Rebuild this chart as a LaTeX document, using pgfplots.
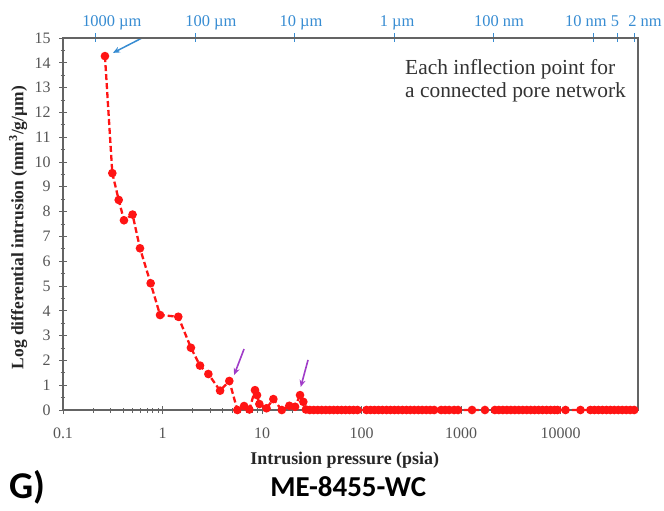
\documentclass[border=0pt]{standalone}
\usepackage{fontspec}
\setmainfont{Liberation Serif}
\newfontfamily\calibri{Carlito}
\usepackage{pgfplots}
\pgfplotsset{compat=1.18}
\usetikzlibrary{arrows.meta}
\definecolor{axgray}{RGB}{100,100,100}
\definecolor{ticktxt}{RGB}{85,85,85}
\definecolor{topblue}{RGB}{55,140,210}
\definecolor{arrpurple}{RGB}{160,60,200}
\definecolor{datared}{RGB}{255,20,20}
\tikzset{toplab/.style={anchor=base, inner sep=0pt, text=topblue, font=\fontsize{16.5}{16.5}\selectfont, yshift=11bp}}
\begin{document}
\begin{tikzpicture}
\useasboundingbox (-63bp,-101bp) rectangle (601bp,410bp);
\begin{axis}[
  at={(0,0)}, anchor=south west, scale only axis,
  width=575bp, height=372bp,
  xmode=log, xmin=0.1, xmax=60000, ymin=0, ymax=15,
  clip=false,
  axis line style={axgray, line width=1.2bp},
  xtick={0.1,1,10,100,1000,10000},
  xticklabels={0.1,1,10,100,1000,10000},
  minor xtick={0.2,0.3,0.4,0.5,0.6,0.7,0.8,0.9,2,3,4,5,6,7,8,9,20,30,40,50,60,70,80,90,200,300,400,500,600,700,800,900,2000,3000,4000,5000,6000,7000,8000,9000,20000,30000,40000,50000},
  ytick={0,1,2,3,4,5,6,7,8,9,10,11,12,13,14,15},
  yticklabels={0,1,2,3,4,5,6,7,8,9,10,11,12,13,14,15},
  minor ytick={0.5,1.5,2.5,3.5,4.5,5.5,6.5,7.5,8.5,9.5,10.5,11.5,12.5,13.5,14.5},
  xtick pos=bottom, ytick pos=left,
  tick style={axgray, line width=0.8bp},
  tick align=center, major tick length=8bp, minor tick length=5bp,
  ticklabel style={ticktxt, font=\fontsize{16}{16}\selectfont},
  xticklabel style={yshift=-10bp},
  yticklabel style={xshift=-5bp},
  xlabel={\textbf{Intrusion pressure (psia)}},
  xlabel style={at={(rel axis cs:0.49,0)}, anchor=base, yshift=-54bp, font=\fontsize{18}{18}\selectfont, text=black!85},
  ylabel={\textbf{Log differential intrusion (mm\textsuperscript{3}/g/µm)}},
  ylabel style={at={(rel axis cs:-0.078,0.49)}, anchor=center, font=\fontsize{17.5}{17.5}\selectfont, text=black!85},
]
\addplot[datared, line width=2.3bp, dash pattern=on 6bp off 3bp,
  mark=*, mark size=3.1bp, mark options={solid, fill=datared, draw=datared}]
coordinates {
(0.264,14.27) (0.313,9.55) (0.363,8.47) (0.41,7.65) (0.50,7.88) (0.594,6.52)
(0.76,5.11) (0.945,3.83) (1.44,3.76) (1.93,2.51) (2.38,1.79) (2.89,1.45)
(3.79,0.78) (4.69,1.17) (5.65,0.0) (6.6,0.16) (7.46,0.02) (8.5,0.8) (8.9,0.6)
(9.4,0.24) (11.1,0.07) (13.0,0.44) (15.8,0.0) (18.8,0.17) (21.5,0.13)
(24.1,0.6) (26.0,0.33) (27.6,0.02)
(30.2,0) (33.1,0) (36.3,0) (39.8,0) (43.7,0) (47.9,0) (52.5,0) (57.5,0)
(63.1,0) (69.2,0) (75.9,0) (83.2,0) (91.2,0)
(112,0) (123,0) (135,0) (148,0) (162,0) (178,0) (195,0) (214,0) (234,0)
(257,0) (282,0) (309,0) (339,0) (372,0) (407,0) (447,0) (490,0) (537,0)
(631,0) (692,0) (759,0) (851,0) (933,0)
(1288,0) (1738,0)
(2188,0) (2399,0) (2630,0) (2884,0) (3162,0) (3467,0) (3802,0) (4169,0)
(4571,0) (5012,0) (5495,0) (6026,0) (6607,0) (7244,0) (7943,0) (8710,0) (9333,0)
(11220,0) (15850,0)
(19950,0) (21880,0) (23990,0) (26300,0) (28840,0) (31620,0) (34670,0)
(38020,0) (41690,0) (45710,0) (50120,0) (54950,0)
};
% annotation arrows
\draw[topblue, line width=1.5bp, -{Stealth[length=7bp,width=6bp]}] (axis cs:0.622,15.0) -- (axis cs:0.318,14.4);
\draw[arrpurple, line width=1.6bp, -{Stealth[length=7bp,width=6bp]}] (axis cs:6.6,2.46) -- (axis cs:5.24,1.41);
\draw[arrpurple, line width=1.6bp, -{Stealth[length=7bp,width=6bp]}] (axis cs:29,2.02) -- (axis cs:24.5,0.93);
% text annotation
\node[anchor=base west, inner sep=0pt, text=black!80, font=\fontsize{21.5}{21.5}\selectfont] at (axis cs:273.5,13.51) {Each inflection point for};
\node[anchor=base west, inner sep=0pt, text=black!80, font=\fontsize{21.5}{21.5}\selectfont] at (axis cs:273.5,12.62) {a connected pore network};
% top axis labels (pore diameter)
\node[toplab] at (axis cs:0.31,15) {1000 µm};
\node[toplab] at (axis cs:3.07,15) {100 µm};
\node[toplab] at (axis cs:24.7,15) {10 µm};
\node[toplab] at (axis cs:228,15) {1 µm};
\node[toplab] at (axis cs:2410,15) {100 nm};
\node[toplab] at (axis cs:18000,15) {10 nm};
\node[toplab] at (axis cs:35300,15) {5};
\node[toplab] at (axis cs:70600,15) {2 nm};
% bottom captions
\node[anchor=base, inner sep=0pt, font=\calibri\bfseries\fontsize{29}{29}\selectfont] at (rel axis cs:0.496,0) [yshift=-86bp] {ME-8455-WC};
\node[anchor=base west, inner sep=0pt, font=\calibri\bfseries\fontsize{38}{38}\selectfont] at (rel axis cs:0,0) [xshift=-54bp, yshift=-88bp] {G)};
\end{axis}
\begin{axis}[
  at={(0,0)}, anchor=south west, scale only axis,
  width=575bp, height=372bp,
  xmode=log, xmin=0.1, xmax=60000, ymin=0, ymax=15,
  axis x line*=top, axis y line=none,
  axis line style={axgray, line width=1.2bp},
  xtick={0.213,2.13,21.3,213,2130,21300,37000,55000},
  xticklabels={},
  minor xtick={},
  tick style={topblue, line width=1.1bp},
  tick align=center, major tick length=9bp,
]
\addplot[draw=none] coordinates {(1,1)};
\end{axis}
\end{tikzpicture}
\end{document}
